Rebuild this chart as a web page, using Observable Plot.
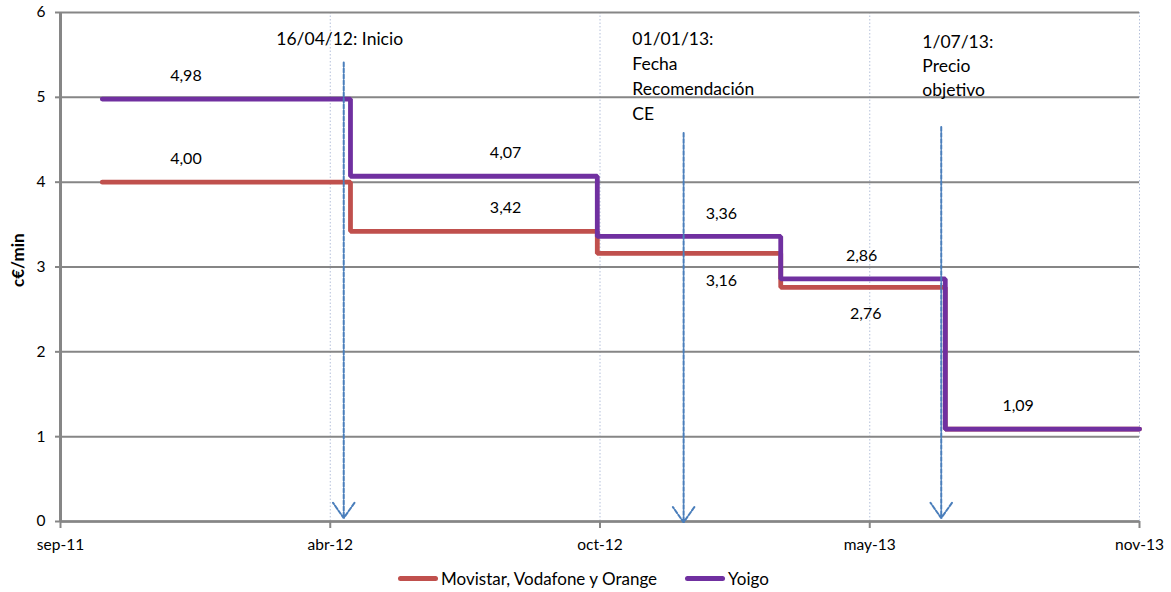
<!DOCTYPE html>
<html>
<head>
<meta charset="utf-8">
<script src="https://cdn.jsdelivr.net/npm/d3@7"></script>
<script src="https://cdn.jsdelivr.net/npm/@observablehq/plot@0.6"></script>
<style>
  body { margin: 0; background: #fff; font-family: Lato, "Open Sans", sans-serif; }
  #legend { display: flex; justify-content: center; align-items: center; gap: 28px; font-size: 17px; color: #000; height: 24px; margin-left: -4px; }
  #legend .item { display: flex; align-items: center; gap: 3px; }
  #legend .sw { width: 40px; height: 5px; border-radius: 3px; display: inline-block; }
</style>
</head>
<body>
<div id="chart"></div>
<div id="legend"></div>
<script>
// ---- data ----
const stepDates = ["2011-10-15", "2012-04-16", "2012-10-16", "2013-03-01", "2013-07-01", "2013-11-22"];
const movistarValues = [4.00, 3.42, 3.16, 2.76, 1.09, 1.09];
const yoigoValues = [4.98, 4.07, 3.36, 2.86, 1.09, 1.09];
const seriesNames = ["Movistar, Vodafone y Orange", "Yoigo"];
const seriesColors = ["#C0504D", "#7030A0"];

const tickDates = ["2011-09-14", "2012-04-01", "2012-10-18", "2013-05-06", "2013-11-22"];
const tickLabels = ["sep-11", "abr-12", "oct-12", "may-13", "nov-13"];
const yTicks = [0, 1, 2, 3, 4, 5, 6];

const labelDates = ["2011-12-16", "2011-12-16", "2012-08-09", "2012-08-09", "2013-01-16", "2013-01-16", "2013-04-30", "2013-05-03", "2013-08-24"];
const labelValues = [4.98, 4.00, 4.07, 3.42, 3.36, 3.16, 2.86, 2.76, 1.09];
const labelSides = ["above", "above", "above", "above", "above", "below", "above", "below", "above"];

const arrowDates = ["2012-04-11", "2012-12-19", "2013-06-28"];
const arrowTops = [5.41, 4.58, 4.65];
const arrowBottoms = [0.04, -0.01, 0.04];

const noteDates = ["2012-02-21", "2012-11-11", "2013-06-14"];
const noteValues = [5.71, 5.71, 5.67];
const noteTexts = ["16/04/12: Inicio", "01/01/13:\nFecha\nRecomendación\nCE", "1/07/13:\nPrecio\nobjetivo"];
const noteLineHeights = [1.4, 1.42, 1.36];

// ---- build tables ----
const P = d3.utcParse("%Y-%m-%d");
const rows = [];
stepDates.forEach((d, i) => {
  rows.push({date: P(d), value: movistarValues[i], series: seriesNames[0]});
});
stepDates.forEach((d, i) => {
  rows.push({date: P(d), value: yoigoValues[i], series: seriesNames[1]});
});
const fmt = v => d3.format(".2f")(v).replace(".", ",");
const labels = labelDates.map((d, i) => ({date: P(d), value: labelValues[i], text: fmt(labelValues[i]), side: labelSides[i]}));
const arrows = arrowDates.map((d, i) => ({date: P(d), y1: arrowTops[i], y2: arrowBottoms[i]}));
const notes = noteDates.map((d, i) => ({date: P(d), value: noteValues[i], text: noteTexts[i], lh: noteLineHeights[i]}));
const tickMap = new Map(tickDates.map((d, i) => [+P(d), tickLabels[i]]));
const ticks = tickDates.map(P);

const gray = "#868686";
const font = "Lato, 'Open Sans', sans-serif";

const noteMarks = notes.map(n => Plot.text([n], {
  x: "date", y: "value", text: "text", textAnchor: "start", lineAnchor: "middle",
  lineHeight: n.lh, fontSize: 17.5, fill: "#000",
  dy: (n.text.split("\n").length - 1) * n.lh * 17.5 / 2
}));

const chart = Plot.plot({
  width: 1171,
  height: 566,
  marginLeft: 60,
  marginRight: 32,
  marginTop: 12,
  marginBottom: 45,
  style: {fontFamily: font, fontSize: "15.5px", color: "#000", background: "#fff"},
  x: {type: "utc", domain: [ticks[0], ticks[ticks.length - 1]]},
  y: {domain: [0, 6]},
  marks: [
    Plot.gridX(ticks, {stroke: "#b4c0da", strokeOpacity: 1, strokeWidth: 1, strokeDasharray: "1.5,2"}),
    Plot.gridY(yTicks, {stroke: gray, strokeOpacity: 1, strokeWidth: 2}),
    Plot.ruleY([0], {stroke: gray, strokeWidth: 2.5}),
    Plot.ruleX([ticks[0]], {stroke: gray, strokeWidth: 3}),
    Plot.axisY(yTicks, {tickSize: 5, tickPadding: 10, stroke: gray, fill: "#000", strokeWidth: 2, fontSize: 15.5, label: null, tickFormat: d => String(d)}),
    Plot.axisX(ticks, {tickSize: 7, tickPadding: 10, stroke: gray, fill: "#000", strokeWidth: 2, fontSize: 15.5, label: null, tickFormat: d => tickMap.get(+d)}),
    Plot.text(["c€/min"], {frameAnchor: "left", dx: -42, dy: 20, rotate: -90, fontWeight: "bold", fontSize: 17, fill: "#000"}),
    Plot.line(rows.filter(r => r.series === seriesNames[0]), {x: "date", y: "value", curve: "step-after", stroke: seriesColors[0], strokeWidth: 4.8, strokeLinecap: "round", strokeLinejoin: "miter"}),
    Plot.line(rows.filter(r => r.series === seriesNames[1]), {x: "date", y: "value", curve: "step-after", stroke: seriesColors[1], strokeWidth: 4.8, strokeLinecap: "round", strokeLinejoin: "miter"}),
    Plot.text(labels.filter(d => d.side === "above"), {x: "date", y: "value", text: "text", dy: -23, fontSize: 16, fill: "#000"}),
    Plot.text(labels.filter(d => d.side === "below"), {x: "date", y: "value", text: "text", dy: 27, fontSize: 16, fill: "#000"}),
    ...noteMarks,
    Plot.arrow(arrows, {x1: "date", x2: "date", y1: "y1", y2: "y2", stroke: "#4a7ebb", strokeWidth: 2, strokeDasharray: "4,2", headLength: 14, headAngle: 70})
  ]
});
document.getElementById("chart").appendChild(chart);

const legend = document.getElementById("legend");
seriesNames.forEach((n, i) => {
  const item = document.createElement("div");
  item.className = "item";
  const sw = document.createElement("span");
  sw.className = "sw";
  sw.style.background = seriesColors[i];
  const t = document.createElement("span");
  t.textContent = n;
  item.appendChild(sw);
  item.appendChild(t);
  legend.appendChild(item);
});
</script>
</body>
</html>
